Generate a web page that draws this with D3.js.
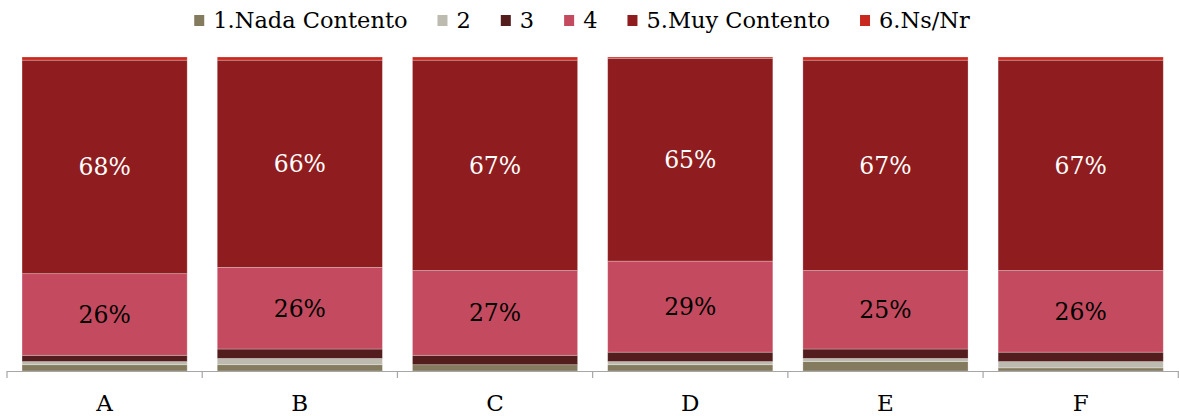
<!DOCTYPE html>
<html>
<head>
<meta charset="utf-8">
<script src="https://cdn.jsdelivr.net/npm/d3@7"></script>
<style>
  html, body { margin: 0; padding: 0; background: #fff; }
  svg { display: block; }
  text { font-family: "DejaVu Serif", "Liberation Serif", serif; }
</style>
</head>
<body>
<svg id="chart" width="1179" height="416"></svg>
<script>
// ---- Data ----
const categories = ["A", "B", "C", "D", "E", "F"];
const seriesNames = ["1.Nada Contento", "2", "3", "4", "5.Muy Contento", "6.Ns/Nr"];
const s1 = [2, 2, 2, 2, 3, 1];          // 1.Nada Contento
const s2 = [1, 2, 0, 1, 1, 2];          // 2
const s3 = [2, 3, 3, 3, 3, 3];          // 3
const s4 = [26, 26, 27, 29, 25, 26];    // 4
const s5 = [68, 66, 67, 64.6, 67, 67];  // 5.Muy Contento
const s6 = [1, 1, 1, 0.4, 1, 1];        // 6.Ns/Nr
const labelledSeries = [3, 4];          // indices of series that carry value labels
const colors = ["#847a5e", "#bdbbb0", "#521d1c", "#c44b5f", "#8f1c1e", "#c8281d"];
const labelColors = {3: "#000000", 4: "#ffffff"};

// ---- Build table ----
const seriesValues = [s1, s2, s3, s4, s5, s6];
const table = categories.map((c, i) => {
  const row = {cat: c};
  seriesNames.forEach((n, k) => row[n] = seriesValues[k][i]);
  return row;
});
const stacked = d3.stack().keys(seriesNames)(table);

const svg = d3.select("#chart");
const x0 = 7, x1 = 1178.3, yTop = 57, yBot = 371;

const x = d3.scaleBand().domain(categories).range([x0, x1])
  .paddingInner(0.154).paddingOuter(0.077);
const y = d3.scaleLinear().domain([0, 100]).range([yBot, yTop]);

// Bars
const g = svg.append("g");
stacked.forEach((layer, k) => {
  g.append("g").selectAll("rect").data(layer).enter().append("rect")
    .attr("x", d => x(d.data.cat))
    .attr("width", x.bandwidth())
    .attr("y", d => y(d[1]))
    .attr("height", d => Math.max(0, y(d[0]) - y(d[1])))
    .attr("fill", colors[k])
    .attr("stroke", "rgba(255,255,255,0.35)")
    .attr("stroke-width", 0.75);
});

// Value labels
labelledSeries.forEach(k => {
  g.append("g").selectAll("text").data(stacked[k]).enter().append("text")
    .attr("x", d => x(d.data.cat) + x.bandwidth() / 2)
    .attr("y", d => (y(d[0]) + y(d[1])) / 2)
    .attr("dy", "0.36em")
    .attr("text-anchor", "middle")
    .attr("font-size", 23.5)
    .attr("fill", labelColors[k])
    .text(d => Math.round(d[1] - d[0]) + "%");
});

// Axis
const axisColor = "#a6a6a6";
svg.append("line").attr("x1", x0).attr("x2", x1).attr("y1", yBot + 0.5).attr("y2", yBot + 0.5)
  .attr("stroke", axisColor).attr("stroke-width", 1.2);
const step = x.step();
const boundaries = categories.map(c => x(c) - step * x.paddingInner() / 2)
  .concat([x(categories[categories.length - 1]) + x.bandwidth() + step * x.paddingInner() / 2]);
svg.append("g").selectAll("line").data(boundaries).enter().append("line")
  .attr("x1", d => d).attr("x2", d => d)
  .attr("y1", yBot).attr("y2", yBot + 7)
  .attr("stroke", axisColor).attr("stroke-width", 1.2);
svg.append("g").selectAll("text").data(categories).enter().append("text")
  .attr("x", d => x(d) + x.bandwidth() / 2)
  .attr("y", 411)
  .attr("text-anchor", "middle")
  .attr("font-size", 23)
  .attr("fill", "#000")
  .text(d => d);

// Legend
const legend = svg.append("g");
let cx = 0;
seriesNames.forEach((n, k) => {
  const it = legend.append("g");
  it.append("rect").attr("x", 0).attr("y", 15).attr("width", 10).attr("height", 11).attr("fill", colors[k]);
  const t = it.append("text").attr("x", 19).attr("y", 28).attr("font-size", 22.5).attr("fill", "#000").text(n);
  const w = t.node().getComputedTextLength();
  it.attr("transform", `translate(${cx},0)`);
  cx += 19 + w + 30;
});
const total = cx - 30;
legend.attr("transform", `translate(${582 - total / 2},0)`);
</script>
</body>
</html>
